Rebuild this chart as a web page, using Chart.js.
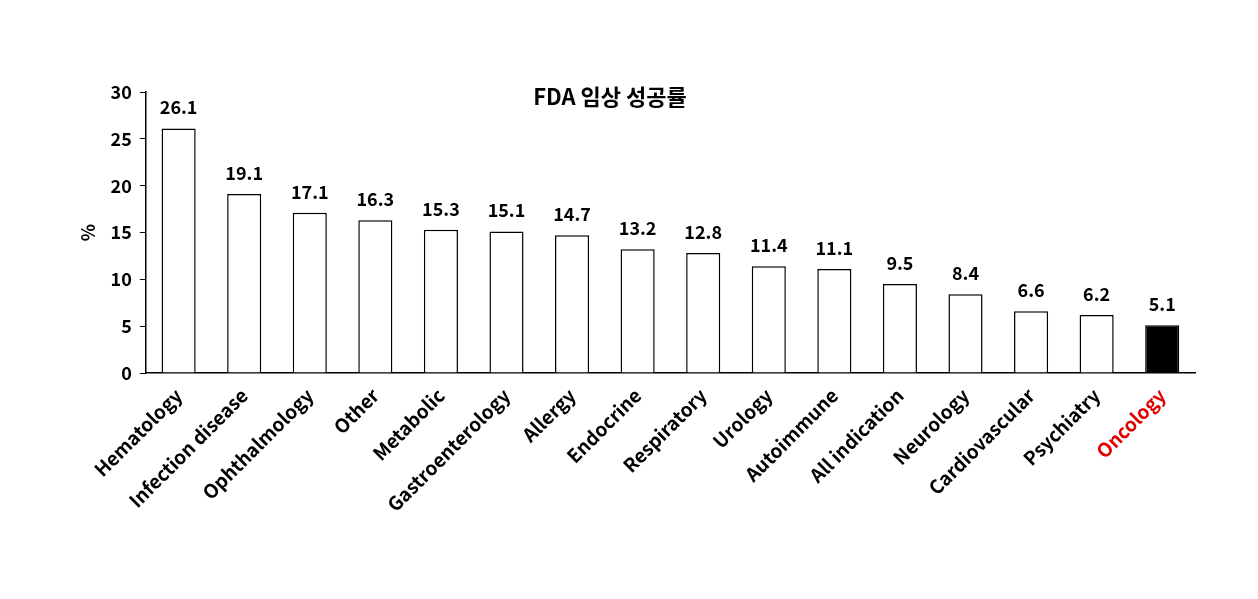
<!DOCTYPE html>
<html>
<head>
<meta charset="utf-8">
<script src="https://cdn.jsdelivr.net/npm/chart.js@4.4.0/dist/chart.umd.min.js"></script>
<style>
  body { margin: 0; background: #fff; }
  canvas { display: block; }
</style>
</head>
<body>
<canvas id="c" width="1258" height="599"></canvas>
<script>
// data
const categories = ['Hematology', 'Infection disease', 'Ophthalmology', 'Other', 'Metabolic',
  'Gastroenterology', 'Allergy', 'Endocrine', 'Respiratory', 'Urology', 'Autoimmune',
  'All indication', 'Neurology', 'Cardiovascular', 'Psychiatry', 'Oncology'];
const successRate = [26.1, 19.1, 17.1, 16.3, 15.3, 15.1, 14.7, 13.2, 12.8, 11.4, 11.1, 9.5, 8.4, 6.6, 6.2, 5.1];
const yTicks = [0, 5, 10, 15, 20, 25, 30];
const titleText = 'FDA 임상 성공률';

const FONT = "'Noto Sans CJK KR', 'Noto Sans', sans-serif";

const labelPlugin = {
  id: 'labels',
  afterDatasetsDraw(chart) {
    const ctx = chart.ctx;
    const meta = chart.getDatasetMeta(0);
    ctx.save();
    ctx.font = 'bold 18px ' + FONT;
    ctx.fillStyle = '#000';
    ctx.textAlign = 'center';
    ctx.textBaseline = 'bottom';
    meta.data.forEach((bar, i) => {
      ctx.fillText(successRate[i].toFixed(1), bar.x, bar.y - 12);
    });
    // title
    ctx.font = 'bold 22px ' + FONT;
    ctx.textBaseline = 'middle';
    ctx.fillText(titleText, 610, 97);
    ctx.restore();
  }
};

new Chart(document.getElementById('c'), {
  type: 'bar',
  data: {
    labels: categories,
    datasets: [{
      data: successRate,
      backgroundColor: categories.map(c => c === 'Oncology' ? '#000' : '#fff'),
      borderColor: '#000',
      borderWidth: 1.5,
      categoryPercentage: 1,
      barPercentage: 0.52
    }]
  },
  options: {
    responsive: false,
    animation: false,
    layout: { padding: { top: 92, right: 63, left: 73 } },
    plugins: { legend: { display: false }, tooltip: { enabled: false } },
    scales: {
      x: {
        afterFit: axis => { axis.height = 226; },
        grid: { display: false, drawTicks: true },
        border: { color: '#000', width: 1.5 },
        ticks: {
          maxRotation: 45, minRotation: 45,
          color: ctx => categories[ctx.index] === 'Oncology' ? '#e00000' : '#000',
          font: { family: FONT, size: 19, weight: 'bold' }
        }
      },
      y: {
        min: 0, max: 30,
        afterBuildTicks: axis => { axis.ticks = yTicks.map(v => ({ value: v })); },
        grid: { display: true, drawOnChartArea: false, color: '#000', tickLength: 6 },
        border: { color: '#000', width: 1.5 },
        ticks: { color: '#000', padding: 8, font: { family: FONT, size: 18, weight: 'bold' } },
        title: { display: true, text: '%', color: '#000', font: { family: FONT, size: 18, weight: 'bold' } }
      }
    }
  },
  plugins: [labelPlugin]
});
</script>
</body>
</html>
